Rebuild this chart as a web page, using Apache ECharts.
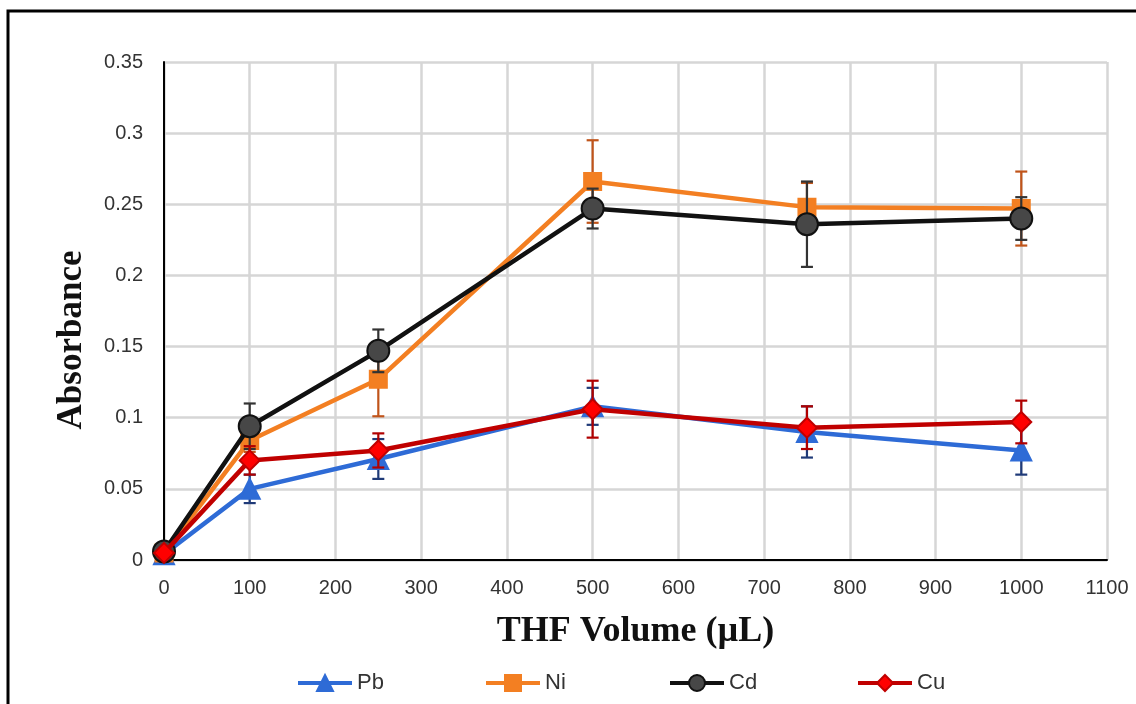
<!DOCTYPE html>
<html>
<head>
<meta charset="utf-8">
<script src="https://cdn.jsdelivr.net/npm/echarts@6/dist/echarts.min.js"></script>
<style>html,body{margin:0;padding:0;background:#fff}#c{width:1136px;height:704px}</style>
</head>
<body>
<div id="c"></div>
<script>
const volumes = [0, 100, 250, 500, 750, 1000];
const pb = [0.004, 0.050, 0.071, 0.108, 0.090, 0.077];
const pbErr = [0, 0.010, 0.014, 0.013, 0.018, 0.017];
const ni = [0.005, 0.084, 0.127, 0.266, 0.248, 0.247];
const niErr = [0, 0.008, 0.026, 0.029, 0.017, 0.026];
const cd = [0.006, 0.094, 0.147, 0.247, 0.236, 0.240];
const cdErr = [0, 0.016, 0.015, 0.014, 0.030, 0.015];
const cu = [0.005, 0.070, 0.077, 0.106, 0.093, 0.097];
const cuErr = [0, 0.010, 0.012, 0.020, 0.015, 0.015];
const xTitle = 'THF Volume (µL)';
const yTitle = 'Absorbance';

const seriesDefs = [
  {name: 'Pb', vals: pb, err: pbErr, color: '#2E6BD6', fill: '#2E6BD6', border: '#2E6BD6', errColor: '#1F3A78', symbol: 'triangle', size: 20},
  {name: 'Ni', vals: ni, err: niErr, color: '#F37F22', fill: '#F37F22', border: '#F37F22', errColor: '#C0541A', symbol: 'rect', size: 17},
  {name: 'Cd', vals: cd, err: cdErr, color: '#111111', fill: '#474747', border: '#111111', errColor: '#333333', symbol: 'circle', size: 22},
  {name: 'Cu', vals: cu, err: cuErr, color: '#C00000', fill: '#FF0000', border: '#C00000', errColor: '#B00000', symbol: 'diamond', size: 20}
];
const legendLefts = [291, 479, 663, 851];

const chart = echarts.init(document.getElementById('c'), null, {renderer: 'canvas'});
const series = [];
seriesDefs.forEach((s, i) => {
  series.push({
    type: 'custom',
    name: s.name + ' err',
    z: 2 + i * 2,
    silent: true,
    encode: {x: 0, y: [1, 2]},
    data: volumes.map((v, k) => [v, s.vals[k] - s.err[k], s.vals[k] + s.err[k]]).filter((d, k) => s.err[k] > 0),
    renderItem: function (params, api) {
      const x = api.value(0), lo = api.value(1), hi = api.value(2);
      const p1 = api.coord([x, hi]), p2 = api.coord([x, lo]);
      const w = 6;
      const st = {stroke: s.errColor, lineWidth: 2.2};
      return {type: 'group', children: [
        {type: 'line', shape: {x1: p1[0], y1: p1[1], x2: p2[0], y2: p2[1]}, style: st},
        {type: 'line', shape: {x1: p1[0] - w, y1: p1[1], x2: p1[0] + w, y2: p1[1]}, style: st},
        {type: 'line', shape: {x1: p2[0] - w, y1: p2[1], x2: p2[0] + w, y2: p2[1]}, style: st}
      ]};
    }
  });
  series.push({
    type: 'line',
    name: s.name,
    z: 3 + i * 2,
    data: volumes.map((v, k) => [v, s.vals[k]]),
    symbol: s.symbol,
    symbolSize: s.size,
    showAllSymbol: true,
    lineStyle: {color: s.color, width: 4.5},
    itemStyle: {color: s.fill, borderColor: s.border, borderWidth: 2, opacity: 1},
    emphasis: {disabled: true},
    animation: false
  });
});

const legends = seriesDefs.map((s, i) => ({
  data: [s.name],
  left: legendLefts[i],
  top: 667,
  itemWidth: 54,
  itemHeight: 20,
  itemGap: 4,
  lineStyle: {width: 4},
  textStyle: {fontFamily: 'Liberation Sans', fontSize: 22, color: '#333'}
}));

chart.setOption({
  animation: false,
  backgroundColor: '#fff',
  grid: {left: 164, right: 29, top: 62, bottom: 144, containLabel: false},
  legend: legends,
  graphic: [{
    type: 'rect', shape: {x: 8, y: 11, width: 1300, height: 900},
    style: {fill: 'none', stroke: '#000', lineWidth: 3}, silent: true, z: 100
  }, {
    type: 'text', x: 72, y: 340, rotation: Math.PI / 2,
    style: {text: yTitle, fontFamily: 'Liberation Serif', fontWeight: 'bold', fontSize: 35, fill: '#111',
      align: 'center', verticalAlign: 'middle'}
  }],
  xAxis: {
    type: 'value', min: 0, max: 1100, interval: 100,
    name: xTitle, nameLocation: 'middle', nameGap: 54,
    nameTextStyle: {fontFamily: 'Liberation Serif', fontWeight: 'bold', fontSize: 36, color: '#111'},
    axisLine: {show: true, onZero: false, lineStyle: {color: '#000', width: 2}},
    axisTick: {show: false},
    axisLabel: {fontFamily: 'Liberation Sans', fontSize: 20, color: '#333', margin: 18, formatter: v => String(v)},
    splitLine: {show: true, lineStyle: {color: '#D6D6D6', width: 2.5}}
  },
  yAxis: {
    type: 'value', min: 0, max: 0.35, interval: 0.05,
    axisLine: {show: true, lineStyle: {color: '#000', width: 2}},
    axisTick: {show: false},
    axisLabel: {fontFamily: 'Liberation Sans', fontSize: 20, color: '#333', margin: 21},
    splitLine: {show: true, lineStyle: {color: '#D6D6D6', width: 2.5}}
  },
  series: series
});
</script>
</body>
</html>
